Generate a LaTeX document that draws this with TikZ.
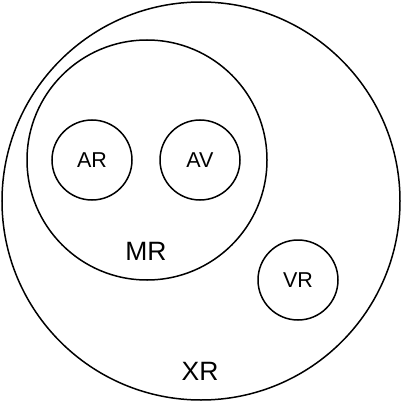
\documentclass[tikz,border=0pt]{standalone}
\usepackage{fontspec}
\setmainfont{Liberation Sans}
\begin{document}
\begin{tikzpicture}[x=1pt, y=-1pt,
	region/.style={draw, circle, line width=1.5pt, inner sep=0pt},
	small/.style={font=\fontsize{21.5}{21.5}\selectfont},
	big/.style={font=\fontsize{26.5}{26.5}\selectfont}]
	\useasboundingbox (0, 0) rectangle (402, 404);
	\node[region, minimum size=398pt] (XR) at (201, 201) {};
	\node[region, minimum size=240pt] (MR) at (147, 160) {};
	\node[region, minimum size=80pt, small] (AR) at (92, 160) {AR};
	\node[region, minimum size=80pt, small] (AV) at (200, 160) {AV};
	\node[region, minimum size=80pt, small] (VR) at (298, 280) {VR};
	
	\node[big] (MRlabel) at (146, 251) {MR};
	\node[big] (XRlabel) at (200, 371) {XR};
\end{tikzpicture}
\end{document}
